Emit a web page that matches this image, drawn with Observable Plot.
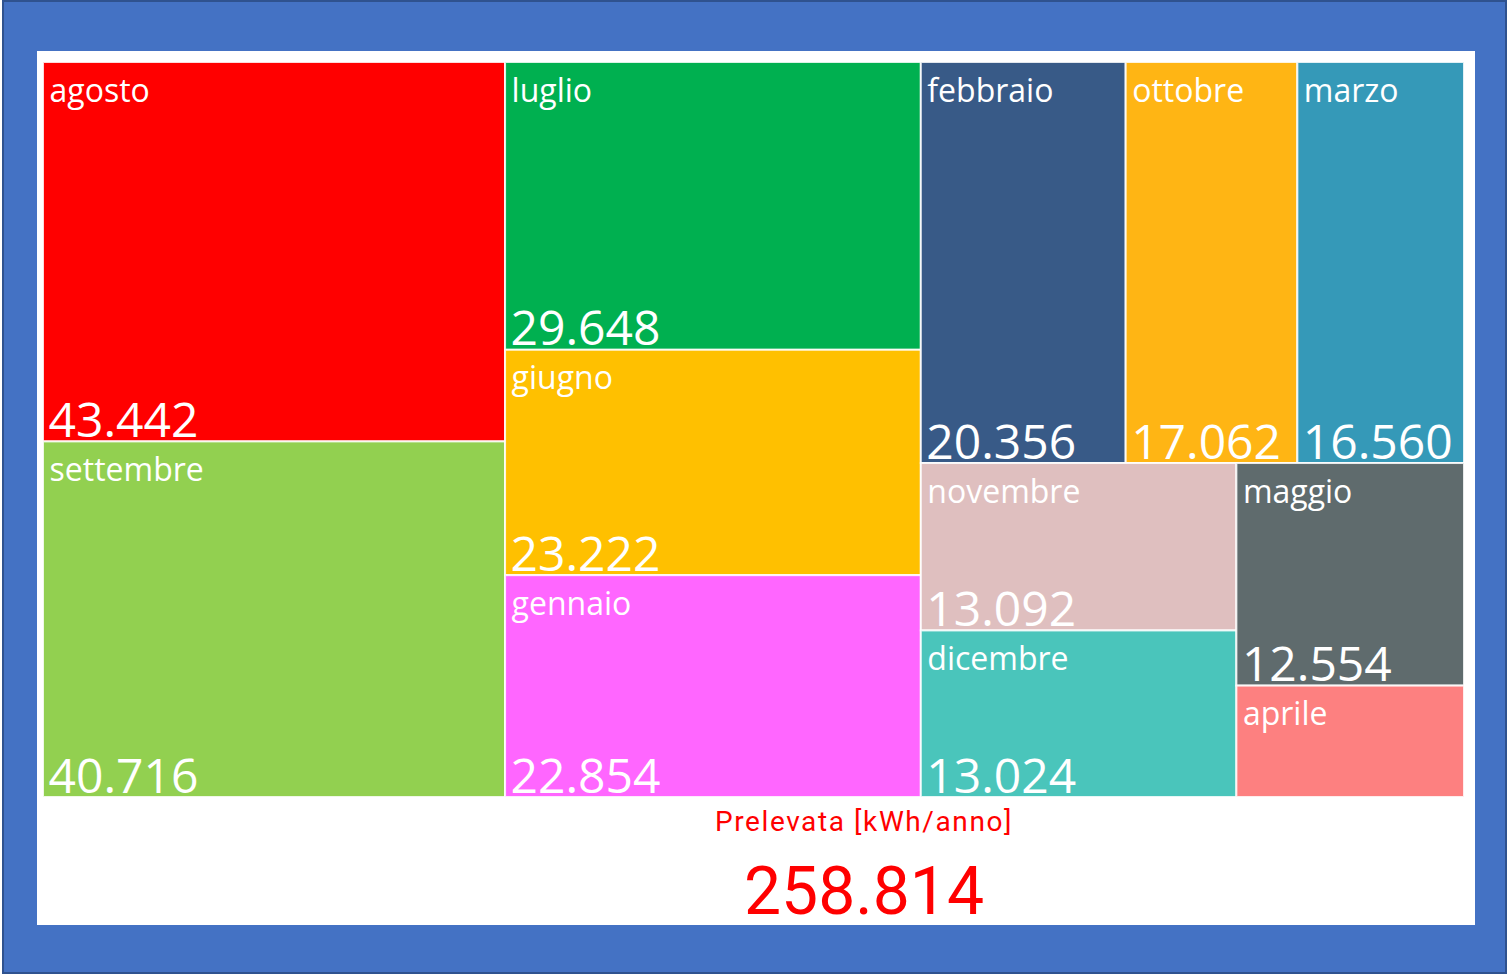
<!DOCTYPE html>
<html><head><meta charset="utf-8">
<script src="https://cdn.jsdelivr.net/npm/d3@7"></script>
<script src="https://cdn.jsdelivr.net/npm/@observablehq/plot@0.6"></script>
<style>
html,body{margin:0;padding:0;background:#fff;width:1509px;height:975px;overflow:hidden;}
#frame{position:absolute;left:2px;top:0;width:1505px;height:974px;box-sizing:border-box;background:#4472C4;border:2px solid #2F528F;}
#panel{position:absolute;left:37px;top:51px;width:1438px;height:874px;background:#fff;}
#chart{position:absolute;left:41px;top:60px;}
.cap{position:absolute;transform:translateX(-50%);color:#FF0000;font-family:"DIN","Roboto",sans-serif;white-space:nowrap;line-height:1;}
</style></head><body>
<div id="frame"></div><div id="panel"></div><div id="chart"></div>
<div class="cap" id="t1" style="left:864px;top:808px;font-size:28px;letter-spacing:1.6px;">Prelevata [kWh/anno]</div>
<div class="cap" id="t2" style="left:864px;top:859px;font-size:66px;"></div>
<script>
const months = ["agosto","settembre","luglio","giugno","gennaio","febbraio","ottobre","marzo","novembre","dicembre","maggio","aprile"];
const values = [43442, 40716, 29648, 23222, 22854, 20356, 17062, 16560, 13092, 13024, 12554, 6284];
const colors = ["#FF0000","#92D050","#00B050","#FFC000","#FF66FF","#385A87","#FFB514","#3599B8","#DFBFBF","#4AC5BB","#5F6B6D","#FD8080"];

const W = 1421, H = 735;
const it = d3.formatLocale({decimal: ",", thousands: ".", grouping: [3], currency: ["", "€"]});
const fmt = it.format(",d");

const root = d3.hierarchy({children: months.map((m, i) => ({name: m, value: values[i], color: colors[i]}))})
  .sum(d => d.value || 0)
  .sort((a, b) => b.value - a.value);
d3.treemap().size([W, H]).tile(d3.treemapSquarify)(root);
const cells = root.leaves().map(l => ({name: l.data.name, value: l.data.value, color: l.data.color, x0: l.x0, x1: l.x1, y0: l.y0, y1: l.y1}));

const font = "'Segoe UI','Open Sans','Noto Sans',sans-serif";
const chart = Plot.plot({
  width: W + 4, height: H + 4, margin: 2,
  x: {domain: [0, W], axis: null},
  y: {domain: [0, H], reverse: true, axis: null},
  color: {type: "identity"},
  style: {background: "transparent", overflow: "visible"},
  marks: [
    Plot.rect(cells, {x1: "x0", x2: "x1", y1: "y0", y2: "y1", fill: "color", stroke: "white", strokeWidth: 2, strokeOpacity: 0.85}),
    Plot.text(cells, {x: "x0", y: "y0", text: "name", textAnchor: "start", lineAnchor: "bottom", dx: 6, dy: 39, fill: "white", fontSize: 32, fontFamily: font}),
    Plot.text(cells.filter(d => d.y1 - d.y0 > 130), {x: "x0", y: "y1", text: d => fmt(d.value), textAnchor: "start", lineAnchor: "bottom", dx: 5, dy: -5, fill: "white", fontSize: 48, fontFamily: font})
  ]
});
document.getElementById("chart").appendChild(chart);
document.getElementById("t2").textContent = fmt(d3.sum(values));
</script>
</body></html>
